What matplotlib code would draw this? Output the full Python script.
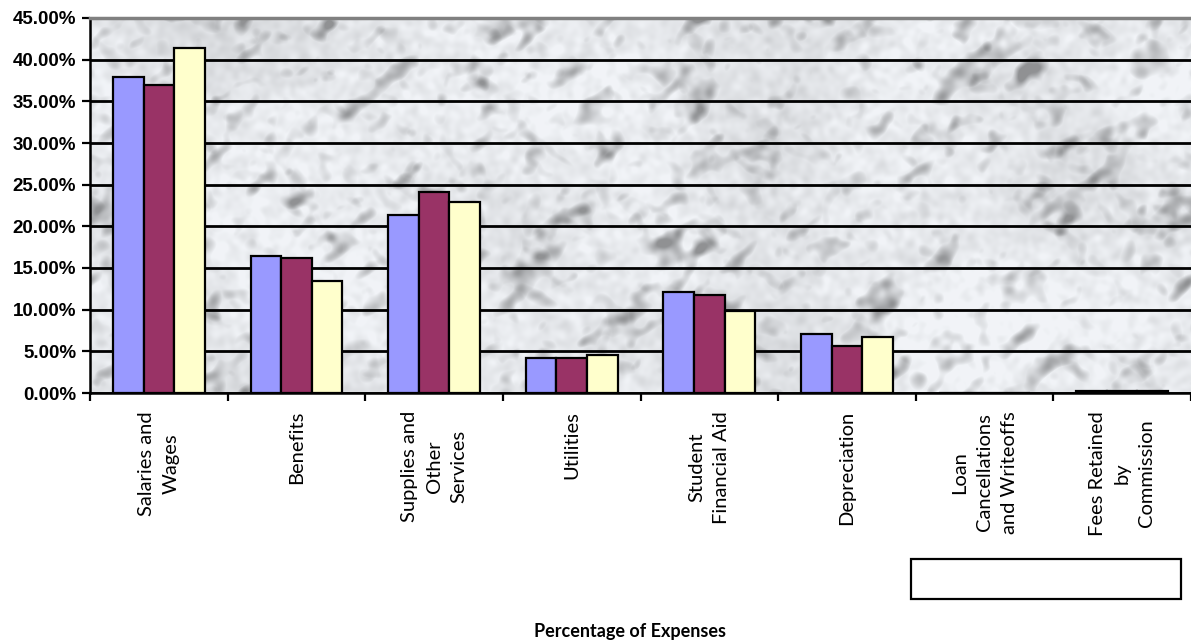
import numpy as np
import matplotlib
matplotlib.use("Agg")
import matplotlib.pyplot as plt
from matplotlib.ticker import PercentFormatter, FixedLocator
from matplotlib.patches import Rectangle

# chart data (percent of expenses)
categories = ["Salaries and\nWages", "Benefits", "Supplies and\nOther\nServices",
              "Utilities", "Student\nFinancial Aid", "Depreciation",
              "Loan\nCancellations\nand Writeoffs", "Fees Retained\nby\nCommission"]
series_a = [37.9, 16.4, 21.3, 4.2, 12.15, 7.1, 0.0, 0.2]
series_b = [37.0, 16.2, 24.1, 4.2, 11.8, 5.7, 0.0, 0.2]
series_c = [41.4, 13.4, 22.9, 4.55, 9.9, 6.75, 0.0, 0.3]
colors = ["#9999FF", "#993366", "#FFFFCC"]
y_max = 45


def blur_noise(rng, shape, s_long, s_short=None, angle=35):
	# filtered white noise (optionally stretched along a direction), background only
	if s_short is None:
		s_short = s_long
	n = rng.standard_normal(shape)
	fy = np.fft.fftfreq(shape[0])[:, None]
	fx = np.fft.fftfreq(shape[1])[None, :]
	t = np.deg2rad(angle)
	fd = fx * np.cos(t) - fy * np.sin(t)
	fn = fx * np.sin(t) + fy * np.cos(t)
	g = np.exp(-2 * np.pi ** 2 * (s_long ** 2 * fd ** 2 + s_short ** 2 * fn ** 2))
	out = np.real(np.fft.ifft2(np.fft.fft2(n) * g))
	return out / out.std()


def marble(shape):
	rng = np.random.default_rng(3)
	warp = blur_noise(rng, shape, 20)
	s1 = blur_noise(rng, shape, 13, 5, 38) + 0.5 * blur_noise(rng, shape, 4) + 0.3 * warp
	s2 = blur_noise(rng, shape, 10, 5, 150) + 0.5 * blur_noise(rng, shape, 4)
	s3 = blur_noise(rng, shape, 6)
	mottle = blur_noise(rng, shape, 3)
	big = blur_noise(rng, shape, 45)
	v = (0.925 + 0.018 * mottle + 0.02 * big
		- 0.13 * np.clip(s1 - 0.8, 0, None)
		- 0.08 * np.clip(s2 - 1.1, 0, None)
		- 0.10 * np.clip(s3 - 1.6, 0, None))
	return np.clip(v, 0.58, 0.97)


fig = plt.figure(figsize=(11.91, 6.43), dpi=100)
ax = fig.add_axes([90 / 1191, 1 - 393 / 643, 1101 / 1191, 375 / 643])

x = np.arange(len(categories))
w = 1 / 4.5
for i, (vals, c) in enumerate(zip([series_a, series_b, series_c], colors)):
	ax.bar(x + (i - 1) * w, vals, width=w, color=c, edgecolor="black", linewidth=1.6, zorder=3)

ax.set_xlim(-0.5, len(categories) - 0.5)
ax.set_ylim(0, y_max)

# marble plot-area fill
tex = marble((376, 1101))
ax.imshow(np.dstack([tex * 0.975, tex * 0.985, tex * 1.0]).clip(0, 1),
		extent=[-0.5, len(categories) - 0.5, 0, y_max], aspect="auto", zorder=0, interpolation="bilinear")

ax.set_yticks(np.arange(0, y_max + 1, 5))
ax.yaxis.set_major_formatter(PercentFormatter(decimals=2))
ax.yaxis.grid(True, color="black", linewidth=2, zorder=1)
ax.set_axisbelow(True)
for lab in ax.get_yticklabels():
	lab.set_fontfamily("Liberation Sans")
	lab.set_fontweight("bold")
	lab.set_fontsize(13.5)
ax.tick_params(axis="y", direction="out", length=6, width=1.6, pad=4)

ax.set_xticks(x)
ax.set_xticklabels(categories, rotation=90, family="Lato", fontsize=14.5,
				ha="center", va="top", multialignment="center", linespacing=1.55)
ax.tick_params(axis="x", which="major", length=0, pad=13)
ax.xaxis.set_minor_locator(FixedLocator(np.arange(-0.5, len(categories), 1)))
ax.tick_params(axis="x", which="minor", direction="out", length=6, width=1.6)

ax.spines["left"].set_linewidth(1.8)
ax.spines["bottom"].set_linewidth(1.8)
ax.spines["top"].set_color("#808080")
ax.spines["top"].set_linewidth(2.5)
ax.spines["right"].set_visible(False)

# empty legend box
fig.patches.append(Rectangle((911 / 1191, 1 - 599 / 643), 270 / 1191, 40 / 643,
							transform=fig.transFigure, facecolor="white",
							edgecolor="black", linewidth=1.6))

fig.text(630 / 1191, 1 - 631 / 643, "Percentage of Expenses", family="Lato",
		fontweight="bold", fontsize=13, ha="center", va="center")

plt.savefig("out.png", dpi=100)
